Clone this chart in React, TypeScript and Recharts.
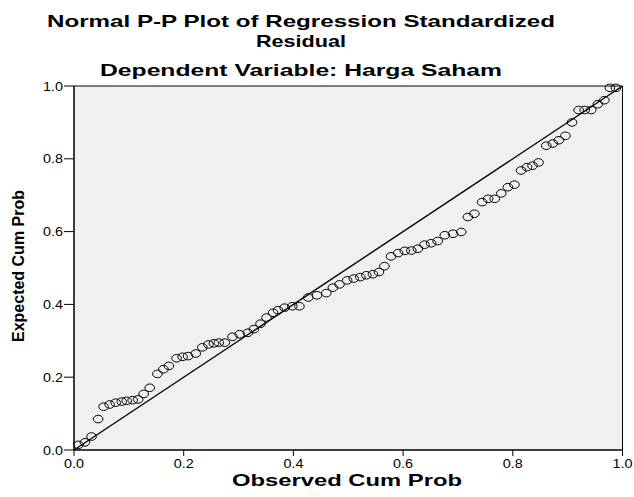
import React from "react";
import {
  CartesianGrid,
  ReferenceArea,
  ReferenceLine,
  Scatter,
  ScatterChart,
  XAxis,
  YAxis,
} from "recharts";

const observed = [
  0.008, 0.02, 0.032, 0.044, 0.054, 0.065, 0.076, 0.087, 0.096, 0.107,
  0.117, 0.127, 0.138, 0.152, 0.163, 0.173, 0.187, 0.198, 0.208, 0.222,
  0.234, 0.245, 0.255, 0.264, 0.275, 0.289, 0.302, 0.317, 0.328, 0.34,
  0.351, 0.363, 0.372, 0.384, 0.398, 0.411, 0.427, 0.443, 0.46, 0.472,
  0.484, 0.498, 0.51, 0.522, 0.533, 0.545, 0.556, 0.566, 0.578, 0.591,
  0.603, 0.615, 0.627, 0.639, 0.651, 0.663, 0.676, 0.691, 0.706, 0.718,
  0.73, 0.744, 0.755, 0.767, 0.779, 0.791, 0.803, 0.815, 0.826, 0.836,
  0.847, 0.861, 0.873, 0.884, 0.896, 0.908, 0.92, 0.931, 0.943, 0.955,
  0.967, 0.977, 0.988,
];
const expected = [
  0.014, 0.021, 0.037, 0.085, 0.119, 0.125, 0.13, 0.133, 0.135, 0.137,
  0.139, 0.154, 0.171, 0.209, 0.222, 0.231, 0.252, 0.256, 0.258, 0.265,
  0.282, 0.29, 0.293, 0.295, 0.295, 0.311, 0.318, 0.322, 0.332, 0.347,
  0.364, 0.377, 0.384, 0.391, 0.395, 0.395, 0.419, 0.425, 0.431, 0.446,
  0.455, 0.466, 0.471, 0.475, 0.48, 0.483, 0.489, 0.505, 0.532, 0.541,
  0.547, 0.548, 0.553, 0.564, 0.568, 0.574, 0.59, 0.594, 0.599, 0.64,
  0.649, 0.681, 0.69, 0.69, 0.705, 0.722, 0.729, 0.768, 0.777, 0.781,
  0.79, 0.836, 0.842, 0.851, 0.863, 0.9, 0.934, 0.934, 0.934, 0.95,
  0.961, 0.995, 0.995,
];
const ticks = [0, 0.2, 0.4, 0.6, 0.8, 1];

const points = observed.map((x, i) => ({ x, y: expected[i] }));

const FONT = "'Liberation Sans', Arial, sans-serif";

function Ring(props: any) {
  const { cx, cy } = props;
  return <ellipse cx={cx} cy={cy} rx={4.8} ry={3.8} fill="none" stroke="#000" strokeWidth={1} />;
}

function XTick({ x, y, payload }: any) {
  return (
    <text x={x} y={y + 9.5} textAnchor="middle" fontFamily={FONT} fontSize={12} fill="#000"
      textLength={20} lengthAdjust="spacingAndGlyphs">
      {Number(payload.value).toFixed(1)}
    </text>
  );
}

function YTick({ x, y, payload }: any) {
  return (
    <text x={x} y={y + 4.5} textAnchor="end" fontFamily={FONT} fontSize={12} fill="#000"
      textLength={20} lengthAdjust="spacingAndGlyphs">
      {Number(payload.value).toFixed(1)}
    </text>
  );
}

export default function App() {
  return (
    <div style={{ position: "absolute", left: 0, top: 0, width: 634, height: 497, background: "#fff" }}>
      <ScatterChart width={634} height={497} margin={{ top: 86, right: 11.5, bottom: 17, left: 0 }}>
        <CartesianGrid fill="#f0f0f0" horizontal={false} vertical={false} />
        <XAxis type="number" dataKey="x" domain={[0, 1]} ticks={ticks} height={30}
          tickSize={6} tickMargin={2} stroke="#000" tick={<XTick />} />
        <YAxis type="number" dataKey="y" domain={[0, 1]} ticks={ticks} width={74}
          tickSize={10} tickMargin={1} stroke="#000" tick={<YTick />} />
        <ReferenceArea x1={0} x2={1} y1={0} y2={1} fill="none" stroke="#000" strokeWidth={1} />
        <ReferenceLine segment={[{ x: 0, y: 0 }, { x: 1, y: 1 }]} stroke="#000" strokeWidth={1.4} />
        <Scatter data={points} shape={<Ring />} isAnimationActive={false} />
      </ScatterChart>
      <svg width={634} height={497} style={{ position: "absolute", left: 0, top: 0, pointerEvents: "none" }}>
        <g fontFamily={FONT} fontWeight="bold" fill="#000">
          <text x={301} y={27} fontSize={17} textAnchor="middle" textLength={508} lengthAdjust="spacingAndGlyphs">
            Normal P-P Plot of Regression Standardized
          </text>
          <text x={301} y={47} fontSize={17} textAnchor="middle" textLength={90} lengthAdjust="spacingAndGlyphs">
            Residual
          </text>
          <text x={301} y={76} fontSize={17} textAnchor="middle" textLength={402} lengthAdjust="spacingAndGlyphs">
            Dependent Variable: Harga Saham
          </text>
          <text x={347} y={486} fontSize={17} textAnchor="middle" textLength={230} lengthAdjust="spacingAndGlyphs">
            Observed Cum Prob
          </text>
          <text x={0} y={0} fontSize={16} textAnchor="middle" textLength={152} lengthAdjust="spacingAndGlyphs"
            transform="translate(24 266) rotate(-90)">
            Expected Cum Prob
          </text>
        </g>
      </svg>
    </div>
  );
}
